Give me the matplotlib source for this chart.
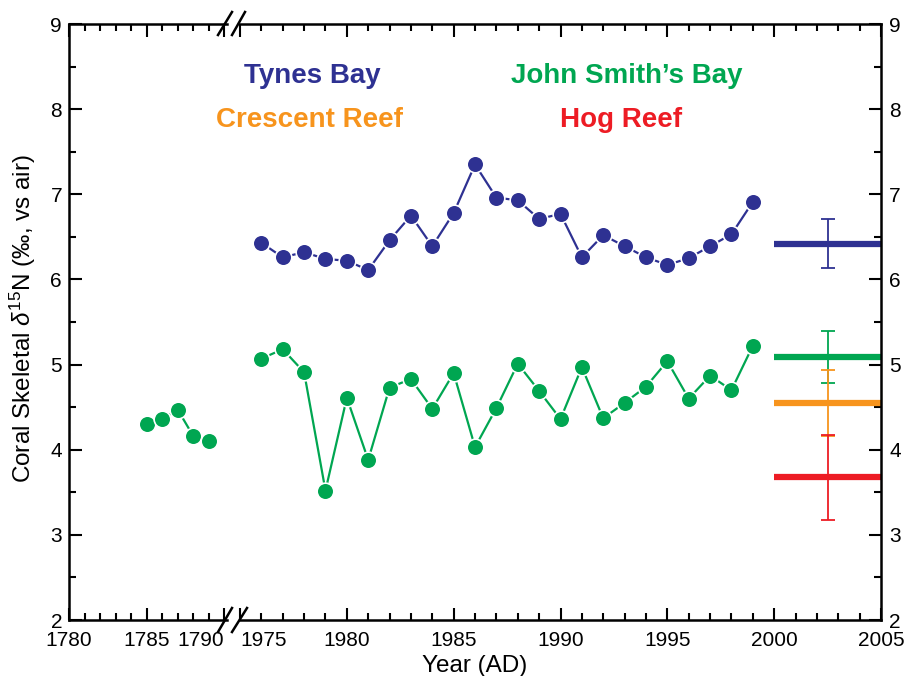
import numpy as np
import matplotlib.pyplot as plt
from matplotlib.lines import Line2D
from matplotlib.ticker import MultipleLocator

plt.rcParams['font.family'] = ['Liberation Sans', 'DejaVu Sans']
plt.rcParams['mathtext.fontset'] = 'custom'
plt.rcParams['mathtext.rm'] = 'Liberation Sans'
plt.rcParams['mathtext.it'] = 'Liberation Sans:italic'

# John Smith's Bay, old section (1785-1789)
years_old = [1785, 1786, 1787, 1788, 1789]
jsb_old = [4.30, 4.36, 4.47, 4.16, 4.10]

# modern section
years = list(range(1976, 2000))
tynes = [6.43, 6.26, 6.32, 6.24, 6.22, 6.11, 6.46, 6.75, 6.39, 6.78, 7.35, 6.96,
         6.93, 6.71, 6.77, 6.26, 6.52, 6.39, 6.26, 6.17, 6.25, 6.39, 6.53, 6.91]
jsb = [5.07, 5.18, 4.91, 3.52, 4.61, 3.88, 4.73, 4.83, 4.48, 4.90, 4.03, 4.49,
       5.01, 4.69, 4.36, 4.97, 4.37, 4.55, 4.74, 5.04, 4.60, 4.87, 4.70, 5.22]

# site means with error bars
sites = ['Tynes Bay', 'John Smith\u2019s Bay', 'Crescent Reef', 'Hog Reef']
site_means = [6.42, 5.09, 4.55, 3.675]
site_err = [0.29, 0.31, 0.39, 0.50]
site_colors = ['#2E3192', '#00A651', '#F7941D', '#ED1C24']

W, H = 908, 676
fig = plt.figure(figsize=(W / 100, H / 100), dpi=100)
bot = 1 - 620 / H
hgt = 596 / H
axL = fig.add_axes([69 / W, bot, (227 - 69) / W, hgt])
axR = fig.add_axes([240 / W, bot, (881 - 240) / W, hgt])

blue, green = site_colors[0], site_colors[1]
mk = dict(marker='o', ms=12, mec='white', mew=1.2, lw=1.6)

axL.plot(years_old, jsb_old, color=green, **mk)
axR.plot(years, tynes, color=blue, **mk)
axR.plot(years, jsb, color=green, **mk)

for m, e, c in zip(site_means, site_err, site_colors):
    axR.hlines(m, 2000, 2005, color=c, lw=4.5)
    axR.errorbar(2002.5, m, yerr=e, fmt='none', ecolor=c, elinewidth=1.3,
                 capsize=5, capthick=1.3)

axL.set_xlim(1780, 1790.17)
axR.set_xlim(1975, 2005)
for ax in (axL, axR):
    ax.set_ylim(2, 9)
    ax.set_yticks(range(2, 10))
    ax.yaxis.set_minor_locator(MultipleLocator(0.5))
    ax.xaxis.set_minor_locator(MultipleLocator(1))
    ax.tick_params(which='both', direction='in', top=True, bottom=True,
                   labelsize=15, width=1.5)
    ax.tick_params(which='major', length=9)
    ax.tick_params(which='minor', length=5)
    ax.tick_params(axis='x', pad=8)
    for s in ax.spines.values():
        s.set_linewidth(1.8)

axL.set_xticks([1780, 1785, 1790], ['1780', '1785', '1790'])
axL.get_xticklabels()[2].set_ha('right')
axL.spines['right'].set_visible(False)
axL.tick_params(axis='y', which='both', left=True, right=False, pad=5)

axR.set_xticks(range(1975, 2006, 5), [str(y) for y in range(1975, 2006, 5)])
axR.get_xticklabels()[0].set_ha('left')
axR.spines['left'].set_visible(False)
axR.tick_params(axis='y', which='both', left=False, right=True,
                labelleft=False, labelright=True, pad=6)

# break marks
for (x0, y0, x1, y1) in [(218, 35, 232, 12), (232, 35, 245, 12),
                         (218, 632, 232, 608), (232, 632, 247, 608)]:
    fig.add_artist(Line2D([x0 / W, x1 / W], [1 - y0 / H, 1 - y1 / H],
                          color='black', lw=1.8, transform=fig.transFigure))

# site names
name_pos = [(312, 83), (627, 83), (309, 127), (621, 127)]
for name, c, (x, y) in zip(sites, site_colors, name_pos):
    fig.text(x / W, 1 - y / H, name, color=c, fontsize=20, fontweight='bold',
             ha='center', va='baseline')

fig.text(23 / W, 1 - 319 / H, 'Coral Skeletal $\\delta^{15}$N (\u2030, vs air)',
         rotation=90, ha='center', va='center', fontsize=17.5)
fig.text(475 / W, 1 - 672 / H, 'Year (AD)', ha='center', va='baseline', fontsize=17.5)

fig.savefig('out.png', dpi=100)
